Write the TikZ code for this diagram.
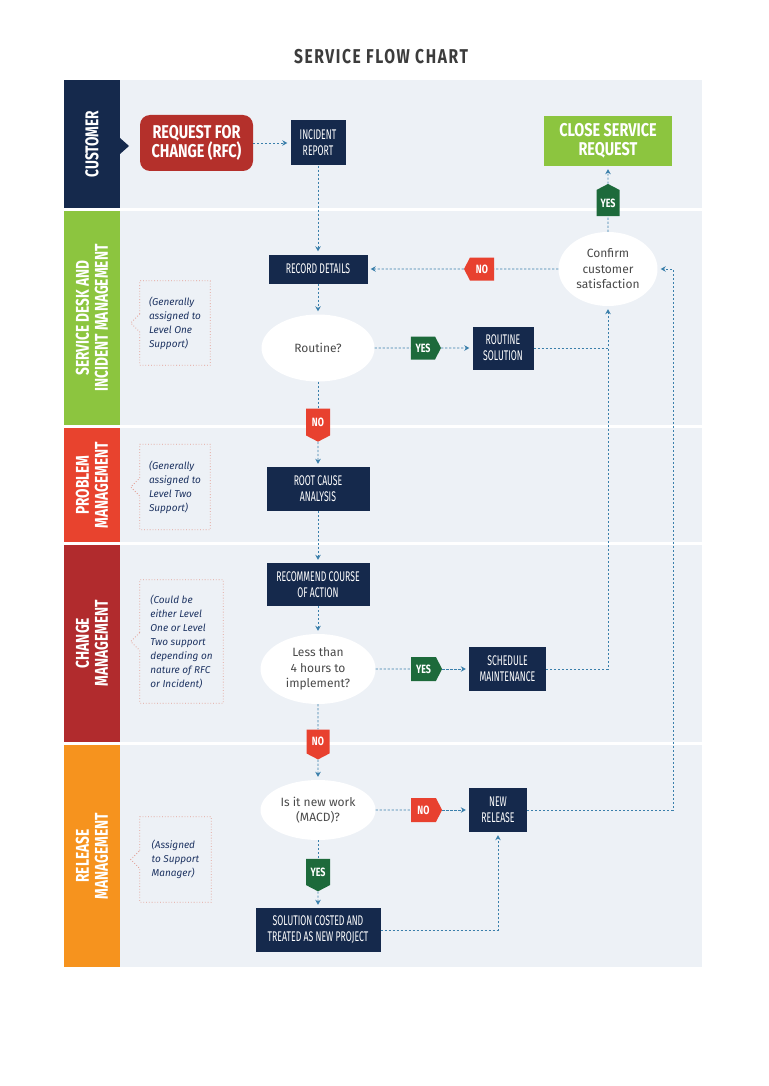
\documentclass[tikz,border=0pt]{standalone}
\usepackage{fontspec}
\setmainfont{Fira Sans}
\newfontfamily\headfont[FakeStretch=0.74]{Fira Sans}
\newfontfamily\bigfont[FakeStretch=0.78]{Fira Sans}
\newfontfamily\boxfont[FakeStretch=0.62]{Fira Sans}
\usetikzlibrary{arrows.meta,shapes.geometric,shapes.symbols}

\definecolor{navy}{HTML}{15294C}
\definecolor{panel}{HTML}{EDF1F6}
\definecolor{deskgreen}{HTML}{8CC53F}
\definecolor{probred}{HTML}{E8432E}
\definecolor{changered}{HTML}{B12B2D}
\definecolor{releaseorange}{HTML}{F6931E}
\definecolor{rfcred}{HTML}{B4302B}
\definecolor{taggreen}{HTML}{1D6A3B}
\definecolor{tagred}{HTML}{E8412F}
\definecolor{flowblue}{HTML}{3A7FAB}
\definecolor{notered}{HTML}{E39C92}
\definecolor{notenavy}{HTML}{1F3563}
\definecolor{textgray}{HTML}{4A4A4A}
\definecolor{titlegray}{HTML}{3C3C3C}

\begin{document}
\begin{tikzpicture}[x=1pt,y=-1pt,>={Stealth[length=5pt,width=5.5pt]}]
   \tikzstyle{lanehead}=[rotate=90, text=white, align=center, font=\headfont\bfseries\fontsize{18.5}{19}\selectfont]
   \tikzstyle{task}=[fill=navy, text=white, align=center, inner sep=0pt, font=\boxfont\fontsize{14}{16}\selectfont]
   \tikzstyle{bigbox}=[text=white, align=center, inner sep=0pt, font=\bigfont\bfseries\fontsize{18.5}{19}\selectfont]
   \tikzstyle{decision}=[ellipse, fill=white, text=textgray, align=center, inner sep=0pt, font=\fontsize{12}{15.5}\selectfont]
   \tikzstyle{yestag}=[signal, signal pointer angle=125, fill=taggreen, text=white, inner sep=0pt, font=\headfont\bfseries\fontsize{12}{12}\selectfont]
   \tikzstyle{notag}=[yestag, fill=tagred]
   \tikzstyle{note}=[text=notenavy, align=left, inner sep=0pt, font=\itshape\fontsize{10}{14}\selectfont]
   \tikzstyle{callout}=[draw=notered, dotted, line width=0.8pt]
   \tikzstyle{flow}=[draw=flowblue, line width=0.9pt, dash pattern=on 2.2pt off 1.8pt]
   \tikzstyle{arrow}=[flow, ->, shorten >=3pt]

   \fill[white] (0,0) rectangle (768,1086);
   \useasboundingbox (0,0) rectangle (768,1086);

   \node[text=titlegray, font=\bigfont\bfseries\fontsize{20}{20}\selectfont\addfontfeature{LetterSpace=8}] (title) at (381,57) {SERVICE FLOW CHART};

   \foreach \ytop/\ybot/\lanecol in {80/208/navy,211/425/deskgreen,428/542/probred,545/742/changered,745/967/releaseorange}{
      \fill[panel] (120,\ytop) rectangle (702,\ybot);
      \fill[\lanecol] (64,\ytop) rectangle (120,\ybot);
   }
   \fill[navy] (120,138) -- (129,146) -- (120,154) -- cycle;

   \node[lanehead] (hcustomer) at (92,144) {CUSTOMER};
   \node[lanehead] (hdesk) at (92,318) {SERVICE DESK AND\\INCIDENT MANAGEMENT};
   \node[lanehead] (hproblem) at (92,485) {PROBLEM\\MANAGEMENT};
   \node[lanehead] (hchange) at (92,643) {CHANGE\\MANAGEMENT};
   \node[lanehead] (hrelease) at (92,856) {RELEASE\\MANAGEMENT};

   \node[note, minimum width=70pt, minimum height=84pt] (note1) at (175,323) {(Generally\\assigned to\\Level One\\Support)};
   \node[note, minimum width=70pt, minimum height=85pt] (note2) at (175,487) {(Generally\\assigned to\\Level Two\\Support)};
   \node[note, minimum width=83pt, minimum height=123pt] (note3) at (181.5,641.5) {(Could be\\either Level\\One or Level\\Two support\\depending on\\nature of RFC\\or Incident)};
   \node[note, minimum width=71pt, minimum height=85pt] (note4) at (175.5,859.5) {(Assigned\\to Support\\Manager)};
   \foreach \n in {note1,note2,note3,note4}
      \draw[callout] ([yshift=9pt]\n.west) |- (\n.north east) |- (\n.south west) -- ([yshift=-9pt]\n.west) -- ([xshift=-9pt]\n.west) -- cycle;

   \node[bigbox, fill=rfcred, rounded corners=10pt, minimum width=113pt, minimum height=56pt] (rfc) at (196.5,143) {REQUEST FOR\\CHANGE (RFC)};
   \node[task, minimum width=55pt, minimum height=45pt] (incident) at (318,143) {INCIDENT\\REPORT};
   \node[bigbox, fill=deskgreen, minimum width=128pt, minimum height=50pt] (close) at (608,141) {CLOSE SERVICE\\REQUEST};
   \node[yestag, signal to=north, minimum width=23pt, minimum height=30pt] (yes2) at (608,203) {YES};
   \node[decision, minimum width=99pt, minimum height=74pt] (confirm) at (608,269) {Confirm\\customer\\satisfaction};
   \node[notag, signal to=west, minimum width=30pt, minimum height=23pt] (no2) at (482,269) {NO};
   \node[task, minimum width=99pt, minimum height=29pt] (record) at (318,269) {RECORD DETAILS};
   \node[decision, minimum width=113pt, minimum height=67pt] (routine) at (318,348) {Routine?};
   \node[yestag, signal to=east, minimum width=30pt, minimum height=23pt] (yes1) at (423,348) {YES};
   \node[task, minimum width=61pt, minimum height=43pt] (routsol) at (503,348) {ROUTINE\\SOLUTION};
   \node[notag, signal to=south, minimum width=24pt, minimum height=30pt] (no1) at (318,422) {NO};
   \node[task, minimum width=103pt, minimum height=44pt] (rootcause) at (318,489) {ROOT CAUSE\\ANALYSIS};
   \node[task, minimum width=103pt, minimum height=43pt] (recommend) at (318,584.5) {RECOMMEND COURSE\\OF ACTION};
   \node[decision, minimum width=115pt, minimum height=70pt] (less) at (318,669) {Less than\\4 hours to\\implement?};
   \node[yestag, signal to=east, minimum width=31pt, minimum height=24pt] (yes3) at (423.5,669) {YES};
   \node[task, minimum width=77pt, minimum height=44pt] (schedule) at (507.5,669) {SCHEDULE\\MAINTENANCE};
   \node[notag, signal to=south, minimum width=23pt, minimum height=27pt] (no3) at (318,741.5) {NO};
   \node[decision, minimum width=115pt, minimum height=60pt] (newwork) at (318,810) {Is it new work\\(MACD)?};
   \node[notag, signal to=east, minimum width=31pt, minimum height=24pt] (no4) at (423.5,810) {NO};
   \node[task, minimum width=58pt, minimum height=44pt] (release) at (498,810) {NEW\\RELEASE};
   \node[yestag, signal to=south, minimum width=24pt, minimum height=30pt] (yes4) at (318,872) {YES};
   \node[task, minimum width=125pt, minimum height=44pt] (costed) at (318,930) {SOLUTION COSTED AND\\TREATED AS NEW PROJECT};

   \coordinate (loop) at (673,269);

   \draw[arrow] (rfc) -- (incident);
   \draw[arrow] (incident) -- (record);
   \draw[arrow] (record) -- (routine);
   \draw[flow] (routine) -- (no1);
   \draw[arrow] (no1) -- (rootcause);
   \draw[flow] (routine) -- (yes1);
   \draw[arrow] (yes1) -- (routsol);
   \draw[arrow] (routsol) -| (confirm);
   \draw[flow] (schedule) -| (routsol -| confirm);
   \draw[arrow] (release) -| (loop) -- (confirm);
   \draw[flow] (confirm) -- (no2);
   \draw[arrow] (no2) -- (record);
   \draw[flow] (confirm) -- (yes2);
   \draw[arrow] (yes2) -- (close);
   \draw[arrow] (rootcause) -- (recommend);
   \draw[arrow] (recommend) -- (less);
   \draw[flow] (less) -- (no3);
   \draw[arrow] (no3) -- (newwork);
   \draw[flow] (less) -- (yes3);
   \draw[arrow] (yes3) -- (schedule);
   \draw[flow] (newwork) -- (no4);
   \draw[arrow] (no4) -- (release);
   \draw[flow] (newwork) -- (yes4);
   \draw[arrow] (yes4) -- (costed);
   \draw[arrow] (costed) -| (release);
\end{tikzpicture}
\end{document}
